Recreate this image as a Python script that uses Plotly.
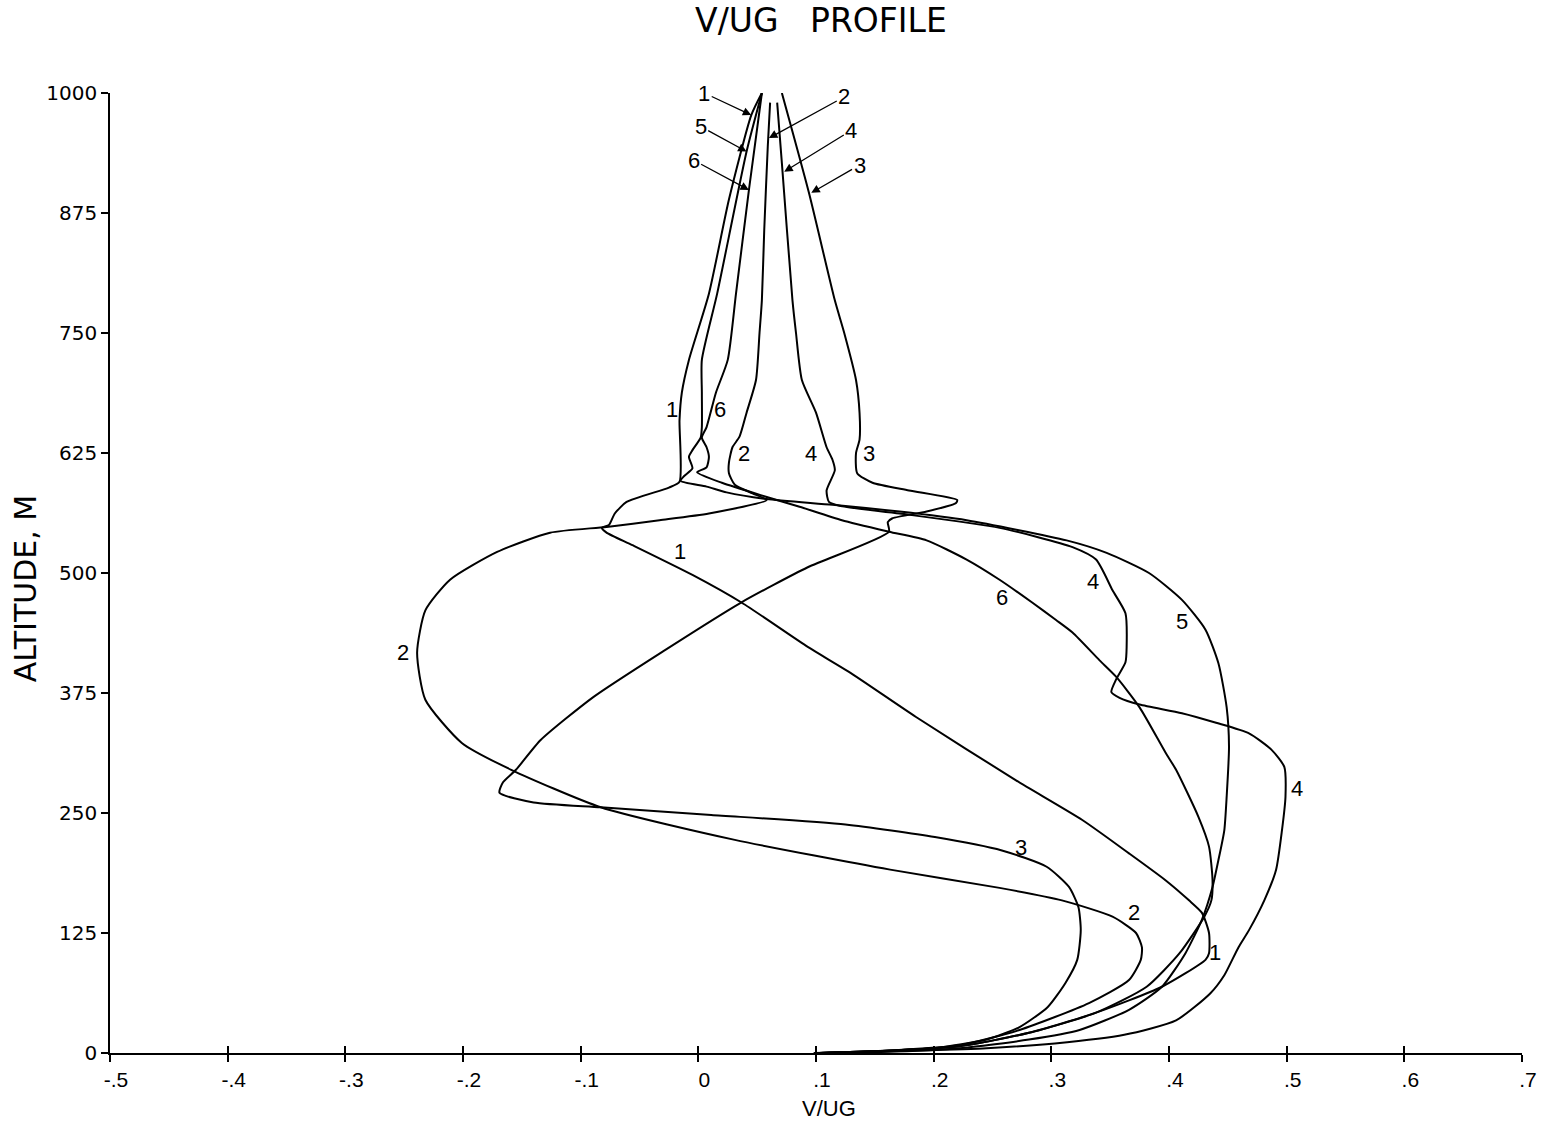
import plotly.graph_objects as go

# ---- data (V/UG, altitude in m) ----
c1_v = [0.054, 0.045, 0.026, 0.009, -0.008, -0.014, -0.016, -0.016, -0.025, -0.061, -0.071, -0.076, -0.082, -0.078,
        -0.056, -0.005, 0.037, 0.093, 0.128, 0.185, 0.270, 0.326, 0.366, 0.397, 0.417, 0.428, 0.434, 0.434,
        0.431, 0.394, 0.338, 0.281, 0.222, 0.154, 0.103]
c1_z = [1000, 977, 889, 791, 722, 688, 659, 595, 589, 574, 562, 550, 547, 542,
        529, 498, 469, 423, 397, 350, 284, 243, 208, 180, 159, 146, 125, 104,
        97, 69, 42, 21, 7, 2, 0]

c2_v = [0.061, 0.059, 0.056, 0.054, 0.052, 0.049, 0.041, 0.035, 0.029, 0.026, 0.026, 0.031, 0.046, 0.058,
        0.009, -0.033, -0.078, -0.126, -0.171, -0.211, -0.232, -0.239, -0.232, -0.201, -0.159, -0.083, 0.031,
        0.163, 0.256, 0.309, 0.352, 0.372, 0.377, 0.376, 0.366, 0.332, 0.273, 0.222, 0.154, 0.103]
c2_z = [990, 944, 857, 784, 750, 701, 667, 642, 631, 615, 604, 592, 583, 576,
        562, 555, 548, 542, 522, 493, 461, 417, 368, 323, 295, 256, 222,
        191, 172, 159, 142, 125, 110, 97, 76, 52, 24, 8, 2, 0]

c3_v = [0.071, 0.094, 0.116, 0.124, 0.134, 0.137, 0.137, 0.134, 0.135, 0.148, 0.179, 0.220, 0.219, 0.194,
        0.165, 0.161, 0.162, 0.093, 0.036, -0.028, -0.089, -0.134, -0.155, -0.166, -0.169, -0.140, -0.083,
        0.011, 0.125, 0.201, 0.258, 0.296, 0.315, 0.323, 0.325, 0.322, 0.312, 0.297, 0.273, 0.245, 0.200, 0.098]
c3_z = [1000, 896, 784, 750, 701, 667, 639, 625, 604, 594, 586, 576, 573, 564,
        557, 553, 543, 506, 469, 420, 371, 326, 295, 282, 271, 261, 256,
        248, 238, 225, 211, 194, 173, 152, 128, 97, 73, 48, 27, 14, 5, 0]

c4_v = [0.067, 0.071, 0.080, 0.083, 0.088, 0.100, 0.109, 0.114, 0.116, 0.109, 0.111, 0.120, 0.171, 0.256,
        0.318, 0.338, 0.352, 0.363, 0.364, 0.363, 0.355, 0.351, 0.358, 0.375, 0.411, 0.440, 0.468, 0.487,
        0.498, 0.499, 0.496, 0.491, 0.481, 0.468, 0.459, 0.447, 0.435, 0.406, 0.362, 0.303, 0.245, 0.171, 0.120]
c4_z = [990, 927, 784, 750, 701, 667, 631, 618, 607, 586, 574, 570, 562, 547,
        527, 514, 482, 458, 423, 407, 389, 376, 370, 363, 354, 344, 333, 316,
        298, 267, 232, 191, 159, 128, 110, 81, 62, 34, 19, 10, 5, 2, 0]

c5_v = [0.054, 0.041, 0.016, 0.003, 0.003, 0.003, 0.002, -0.005, -0.008, -0.005, -0.012, -0.015, 0.007, 0.024,
        0.058, 0.114, 0.171, 0.228, 0.313, 0.347, 0.383, 0.411, 0.431, 0.442, 0.449, 0.451, 0.449, 0.447,
        0.442, 0.437, 0.428, 0.414, 0.394, 0.366, 0.324, 0.281, 0.222, 0.154, 0.103]
c5_z = [1000, 939, 791, 722, 688, 652, 641, 628, 621, 609, 601, 596, 590, 584,
        577, 571, 564, 555, 534, 521, 500, 472, 441, 406, 360, 319, 267, 232,
        201, 173, 139, 104, 69, 45, 24, 14, 5, 1, 0]

c6_v = [0.054, 0.043, 0.032, 0.025, 0.015, 0.007, 0.003, 0.007, 0.009, 0.007, -0.001, 0.020, 0.056, 0.086,
        0.122, 0.162, 0.194, 0.228, 0.256, 0.284, 0.304, 0.318, 0.341, 0.355, 0.375, 0.397, 0.406, 0.425,
        0.434, 0.437, 0.436, 0.430, 0.409, 0.381, 0.338, 0.281, 0.222, 0.154, 0.103]
c6_z = [1000, 899, 791, 722, 688, 652, 641, 631, 621, 610, 605, 594, 580, 569,
        555, 543, 534, 514, 493, 469, 451, 438, 409, 392, 360, 313, 295, 246,
        215, 180, 159, 142, 104, 69, 42, 21, 7, 2, 0]

curves = [(c1_v, c1_z), (c2_v, c2_z), (c3_v, c3_z), (c4_v, c4_z), (c5_v, c5_z), (c6_v, c6_z)]

# in-plot curve labels: text, V, altitude
label_text = ["1", "6", "2", "4", "3", "1", "6", "4", "5", "2", "4", "3", "2", "1"]
label_v = [-0.022, 0.018, 0.039, 0.096, 0.145, -0.016, 0.258, 0.335, 0.411, -0.251, 0.509, 0.274, 0.370, 0.439]
label_z = [670, 670, 625, 625, 625, 522, 474, 491, 449, 417, 276, 214, 146, 105]

# arrow labels at the top: text, text position, arrow head
arrow_text = ["1", "2", "5", "4", "6", "3"]
arrow_tv = [0.005, 0.124, 0.002, 0.130, -0.004, 0.137]
arrow_tz = [1000, 996, 965, 961, 930, 925]
arrow_hv = [0.045, 0.060, 0.041, 0.073, 0.043, 0.096]
arrow_hz = [977, 953, 939, 918, 899, 896]

x_ticks = [-0.5, -0.4, -0.3, -0.2, -0.1, 0, 0.1, 0.2, 0.3, 0.4, 0.5, 0.6, 0.7]
x_tick_text = ["-.5", "-.4", "-.3", "-.2", "-.1", "0", ".1", ".2", ".3", ".4", ".5", ".6", ".7"]
y_ticks = [0, 125, 250, 375, 500, 625, 750, 875, 1000]
y_tick_text = ["0", "125", "250", "375", "500", "625", "750", "875", "1000"]

FONT = "DejaVu Sans"
LFONT = "Liberation Sans"

fig = go.Figure()
for v, z in curves:
    fig.add_trace(go.Scatter(x=v, y=z, mode="lines", line=dict(color="black", width=2, shape="spline", smoothing=0.6),
                             hoverinfo="skip", showlegend=False))
# invisible trace carrying the second (overlaid) x axis, used for crossing tick marks
fig.add_trace(go.Scatter(x=[x_ticks[0]], y=[0], xaxis="x2", mode="markers",
                         marker=dict(opacity=0), showlegend=False, hoverinfo="skip"))

for t, v, z in zip(label_text, label_v, label_z):
    fig.add_annotation(x=v, y=z, text=t, showarrow=False,
                       font=dict(family=LFONT, size=22, color="black"))
for t, tv, tz, hv, hz in zip(arrow_text, arrow_tv, arrow_tz, arrow_hv, arrow_hz):
    fig.add_annotation(x=hv, y=hz, ax=tv, ay=tz, axref="x", ayref="y", text=t,
                       showarrow=True, arrowhead=2, arrowsize=1.3, arrowwidth=1.3,
                       arrowcolor="black", font=dict(family=LFONT, size=22, color="black"))

# axis titles as annotations for exact placement
fig.add_annotation(x=0.111, y=-0.0573, xref="x", yref="paper", xanchor="center", yanchor="middle",
                   text="V/UG", showarrow=False, font=dict(family=LFONT, size=22, color="black"))
fig.add_annotation(x=-0.0602, y=0.484, xref="paper", yref="paper", xanchor="center", yanchor="middle",
                   text="ALTITUDE, M", showarrow=False, textangle=-90,
                   font=dict(family=FONT, size=30, color="black"))

fig.update_layout(
    width=1558, height=1124,
    margin=dict(l=110, r=36, t=93, b=71),
    paper_bgcolor="white", plot_bgcolor="white",
    title=dict(text="V/UG&nbsp;&nbsp;&nbsp;PROFILE", xref="paper", x=0.5035, xanchor="center",
               yref="container", y=0.982, yanchor="middle",
               font=dict(family=FONT, size=33, color="black")),
    xaxis=dict(range=[-0.5, 0.7], tickvals=x_ticks, ticktext=x_tick_text, showgrid=False, zeroline=False,
               showline=True, linecolor="black", linewidth=1.6, ticks="outside", ticklen=7, tickwidth=1.5,
               tickcolor="black", tickfont=dict(family=LFONT, size=21, color="black"), ticklabelshift=6),
    xaxis2=dict(range=[-0.5, 0.7], tickvals=x_ticks, overlaying="x", anchor="y", side="bottom",
                showticklabels=False, showgrid=False, zeroline=False, ticks="inside", ticklen=7,
                tickwidth=1.5, tickcolor="black"),
    yaxis=dict(range=[0, 1000], tickvals=y_ticks, ticktext=y_tick_text, showgrid=False, zeroline=False,
               showline=True, linecolor="black", linewidth=1.6, ticks="outside", ticklen=7, tickwidth=1.5,
               tickcolor="black", tickfont=dict(family=FONT, size=20, color="black")),
)

fig.write_html("out.html")
